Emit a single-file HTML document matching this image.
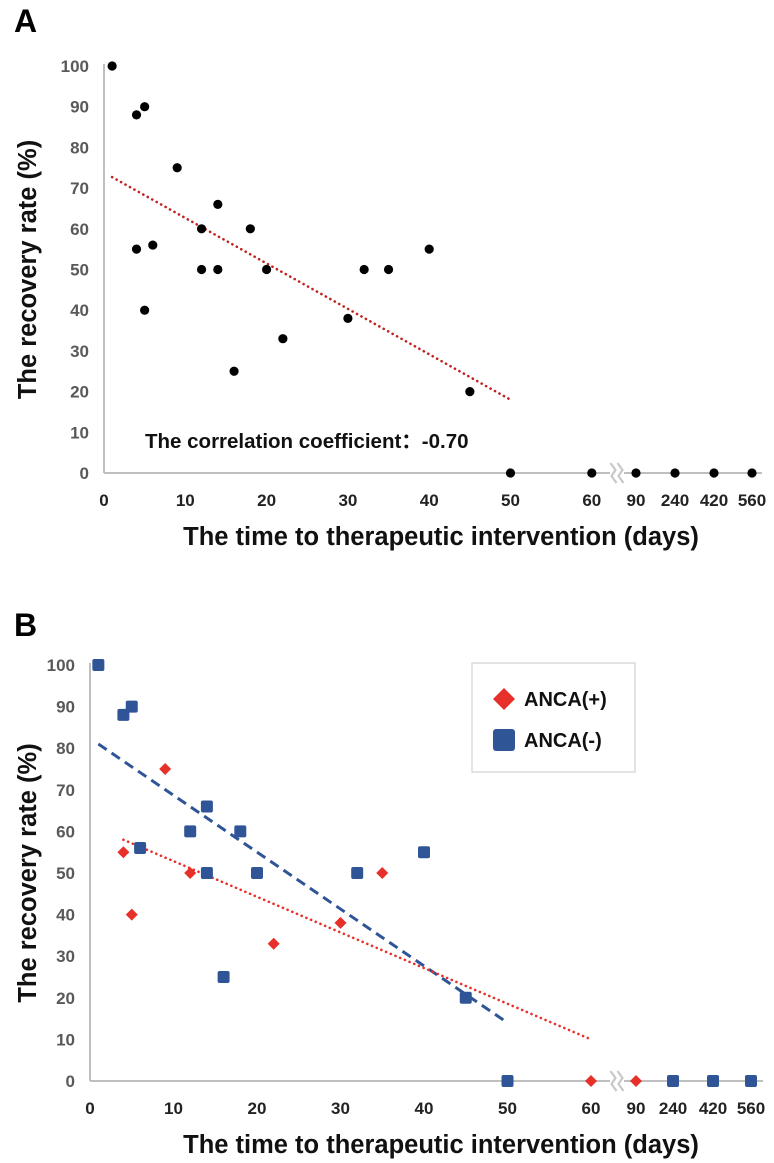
<!DOCTYPE html>
<html><head><meta charset="utf-8">
<style>
html,body{margin:0;padding:0;background:#fff;}
svg{display:block;font-family:"Liberation Sans",sans-serif;}
</style></head>
<body>
<svg id="fig" width="774" height="1163" viewBox="0 0 774 1163"></svg>
<script>
// Axis tick values (positions are computed by axis functions)
const yTicks = [0,10,20,30,40,50,60,70,80,90,100];
const xTicksLinear = [0,10,20,30,40,50,60];
const xTicksBroken = [90,240,420,560];

// Panel A data
const aDays = [1,4,5,9,4,6,5,12,12,14,14,16,18,20,22,30,32,35,40,45,50,60,90,240,420,560];
const aRate = [100,88,90,75,55,56,40,60,50,66,50,25,60,50,33,38,50,50,55,20,0,0,0,0,0,0];
const aTrendX = [1,50];
const aTrendY = [72.7,18];

// Panel B data
const posDays = [4,5,9,12,22,30,35,60,90];
const posRate = [55,40,75,50,33,38,50,0,0];
const negDays = [1,4,5,6,12,14,14,16,18,20,32,40,45,50,240,420,560];
const negRate = [100,88,90,56,60,66,50,25,60,50,50,55,20,0,0,0,0];
const posTrendX = [4,60];
const posTrendY = [58,10];
const negTrendX = [1,50];
const negTrendY = [81,14];

const NS = "http://www.w3.org/2000/svg";
const svg = document.getElementById('fig');
function mk(tag, attrs, parent){
  const e = document.createElementNS(NS, tag);
  for (const k in attrs) e.setAttribute(k, attrs[k]);
  (parent||svg).appendChild(e);
  return e;
}

function makePanel(cfg){
  const g = mk('g', {});
  
  
  const brokenPos = {90:cfg.bx[0],240:cfg.bx[1],420:cfg.bx[2],560:cfg.bx[3]};
  const xs = v => v <= 60 ? cfg.x0 + v*cfg.xu : brokenPos[v];
  const ys = v => cfg.y0 - v*cfg.yu;
  const ya = mk('line', {x1:cfg.x0, y1:ys(100)-2, x2:cfg.x0, y2:cfg.y0, stroke:'#bfbfbf','stroke-width':2}, g);
  
  
  const xa = mk('line', {x1:cfg.x0, y1:cfg.y0, x2:cfg.xend, y2:cfg.y0, stroke:'#bfbfbf','stroke-width':2}, g);
  
  
  const br = mk('g', {}, g);
  
  
  mk('rect', {x:cfg.brk-7, y:cfg.y0-10, width:14, height:20, fill:'#fff'}, br);
  [-3.5,3.5].forEach(d=>{
    mk('path', {d:`M${cfg.brk+d-3},${cfg.y0-10} L${cfg.brk+d+2},${cfg.y0-3} L${cfg.brk+d-2},${cfg.y0+3} L${cfg.brk+d+3},${cfg.y0+10}`, fill:'none', stroke:'#c8c8c8','stroke-width':2.2}, br);
  });
  yTicks.forEach(v=>{
    const t = mk('text', {x:cfg.x0-15, y:ys(v)+6, 'text-anchor':'end','font-size':17,'font-weight':'bold',fill:'#595959'}, g);
    t.textContent = v;
    
    
  });
  xTicksLinear.concat(xTicksBroken).forEach(v=>{
    const t = mk('text', {x:xs(v), y:cfg.y0+33, 'text-anchor':'middle','font-size':17,'font-weight':'bold',fill:'#222'}, g);
    t.textContent = v;
    
    
  });
  const xt = mk('text', {x:cfg.xtx, y:cfg.y0+72, 'text-anchor':'middle','font-size':25.5,'font-weight':'bold',fill:'#111'}, g);
  xt.textContent = 'The time to therapeutic intervention (days)';
  
  
  const ytx = 36, yty = ys(50);
  const yt = mk('text', {x:ytx, y:yty, 'text-anchor':'middle','font-size':25.5,'font-weight':'bold',fill:'#111', transform:`rotate(-90 ${ytx} ${yty})`}, g);
  yt.textContent = 'The recovery rate (%)';
  
  
  const pl = mk('text', {x:cfg.lx, y:cfg.ly, 'font-size':32,'font-weight':'bold',fill:'#000'}, g);
  pl.textContent = cfg.label;
  
  
  return {g, xs, ys};
}

// Panel A
const A = makePanel({name:'panel-a-chart', x0:104, xu:8.13, y0:473, yu:4.07, bx:[636,675,714,752], xend:762, brk:617, xtx:441, label:'A', lx:14, ly:32});
const tA = mk('line', {x1:A.xs(aTrendX[0]), y1:A.ys(aTrendY[0]), x2:A.xs(aTrendX[1]), y2:A.ys(aTrendY[1]), stroke:'#c0211d','stroke-width':2.6,'stroke-dasharray':'0.1 5','stroke-linecap':'round'}, A.g);


aDays.forEach((d,i)=>{
  const c = mk('circle', {cx:A.xs(d), cy:A.ys(aRate[i]), r:4.6, fill:'#000'}, A.g);
  
  
});
const corr = mk('text', {x:145, y:448, 'font-size':20.5,'font-weight':'bold',fill:'#111'}, A.g);
corr.textContent = 'The correlation coefficient\uFF1A-0.70';



// Panel B
const B = makePanel({name:'panel-b-chart', x0:90, xu:8.35, y0:1081, yu:4.16, bx:[636,673,713,751], xend:763, brk:617, xtx:441, label:'B', lx:14, ly:636});
const tN = mk('line', {x1:B.xs(negTrendX[0]), y1:B.ys(negTrendY[0]), x2:B.xs(negTrendX[1]), y2:B.ys(negTrendY[1]), stroke:'#2f5597','stroke-width':3,'stroke-dasharray':'10 6'}, B.g);


const tP = mk('line', {x1:B.xs(posTrendX[0]), y1:B.ys(posTrendY[0]), x2:B.xs(posTrendX[1]), y2:B.ys(posTrendY[1]), stroke:'#e8302a','stroke-width':2.6,'stroke-dasharray':'0.1 5','stroke-linecap':'round'}, B.g);


negDays.forEach((d,i)=>{
  const s = mk('rect', {x:B.xs(d)-6, y:B.ys(negRate[i])-6, width:12, height:12, rx:2, fill:'#2f5597'}, B.g);
  
  
});
posDays.forEach((d,i)=>{
  const x = B.xs(d), y = B.ys(posRate[i]);
  const p = mk('path', {d:`M${x},${y-6} L${x+6},${y} L${x},${y+6} L${x-6},${y} Z`, fill:'#e8302a'}, B.g);
  
  
});
const lg = mk('g', {}, B.g);


mk('rect', {x:472, y:663, width:163, height:109, fill:'#fff', stroke:'#d0d0d0','stroke-width':1.2}, lg);
const le1 = mk('g', {}, lg);


mk('path', {d:'M504,688 L515,699 L504,710 L493,699 Z', fill:'#e8302a'}, le1);
const l1 = mk('text', {x:524, y:706, 'font-size':20,'font-weight':'bold',fill:'#111'}, le1);
l1.textContent = 'ANCA(+)';
const le2 = mk('g', {}, lg);


mk('rect', {x:493, y:729, width:22, height:22, rx:3, fill:'#2f5597'}, le2);
const l2 = mk('text', {x:524, y:747, 'font-size':20,'font-weight':'bold',fill:'#111'}, le2);
l2.textContent = 'ANCA(-)';
</script>
</body></html>
